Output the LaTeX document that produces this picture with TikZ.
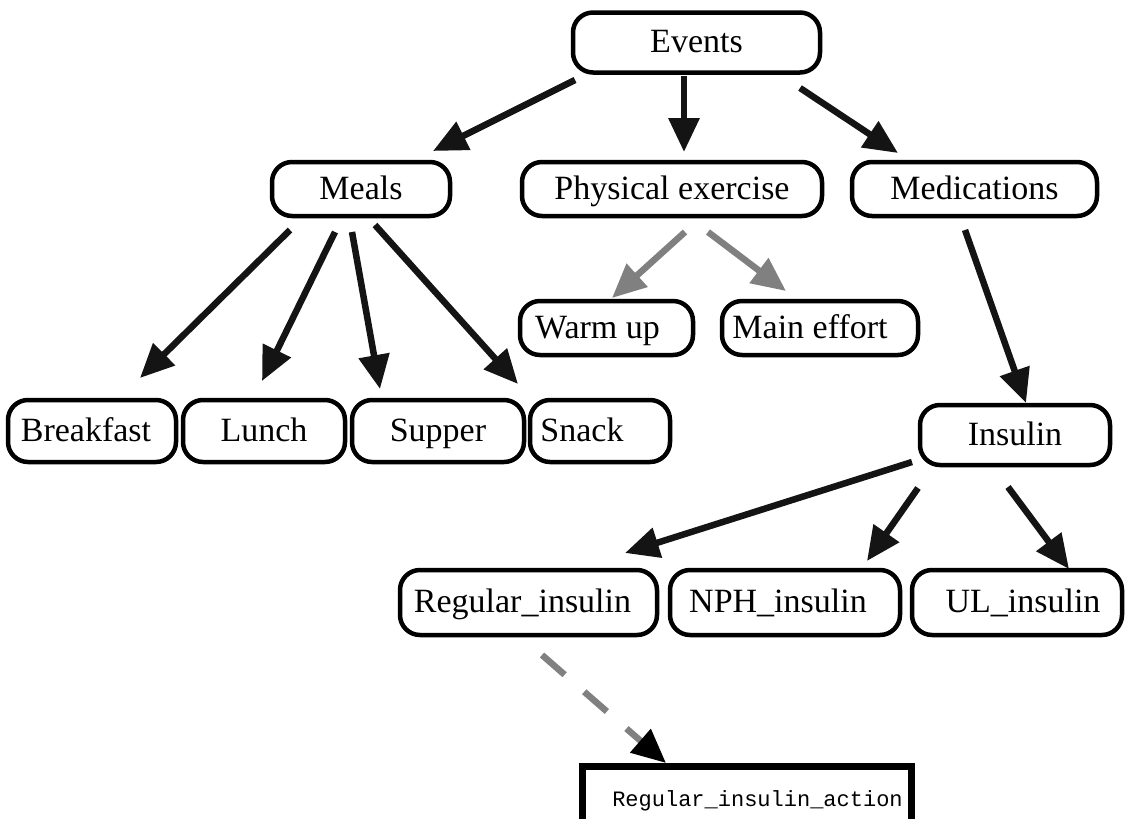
\documentclass[tikz,border=0pt]{standalone}
\usepackage{fontspec}
\setmainfont{Liberation Serif}
\setmonofont{Liberation Mono}
\usetikzlibrary{arrows.meta}
\begin{document}
\begin{tikzpicture}[x=1pt,y=-1pt,
  box/.style={draw=black, line width=4.5pt, rounded corners=20pt, inner sep=0pt,
    minimum height=54pt, text height=27pt, text depth=7pt,
    font=\fontsize{34}{40}\selectfont},
  actionbox/.style={draw=black, line width=7pt, inner sep=0pt,
    text height=25pt, text depth=5pt,
    font=\ttfamily\fontsize{22}{26}\selectfont},
  arr/.style={line width=6.5pt, draw=black!92, -{Triangle[length=34pt,width=30pt]}},
  garr/.style={line width=6.5pt, draw=black!50, -{Triangle[length=34pt,width=30pt,fill=black!50]}},
  darr/.style={line width=6.5pt, draw=black!50, dash pattern=on 30pt off 26pt,
    -{Triangle[length=34pt,width=30pt,fill=black,color=black]}}
]
\useasboundingbox (0,0) rectangle (1125,819);

% nodes
\node[box, minimum width=247, minimum height=60] (events) at (696.5,42.5) {Events};
\node[box, minimum width=178] (meals) at (361,189) {Meals};
\node[box, minimum width=300] (phys) at (672,189) {Physical exercise};
\node[box, minimum width=245] (meds) at (974.5,189) {Medications};
\node[box, minimum width=173] (warm) at (606.5,328) {Warm up\hspace*{18pt}};
\node[box, minimum width=196] (effort) at (820,328) {Main effort\hspace*{20pt}};
\node[box, minimum width=168, minimum height=62] (breakfast) at (92,431) {Breakfast\hspace*{12pt}};
\node[box, minimum width=162, minimum height=62] (lunch) at (264,431) {Lunch};
\node[box, minimum width=172, minimum height=62] (supper) at (438,431) {Supper};
\node[box, minimum width=140, minimum height=62] (snack) at (600,431) {Snack\hspace*{36pt}};
\node[box, minimum width=190, minimum height=60] (insulin) at (1015,435) {Insulin};
\node[box, minimum width=257, minimum height=65] (regular) at (528.5,602.5) {Regular\_insulin\hspace*{12pt}};
\node[box, minimum width=230, minimum height=65] (nph) at (785,602.5) {NPH\_insulin\hspace*{14pt}};
\node[box, minimum width=210, minimum height=65] (ul) at (1017,602.5) {\hspace*{12pt}UL\_insulin};
\node[actionbox, minimum width=329, minimum height=60] (action) at (746.5,796) {\hspace*{22pt}Regular\_insulin\_action};

% connector end points
\coordinate (e1s) at (575,80);  \coordinate (e1t) at (433,151);
\coordinate (e2s) at (684,76);  \coordinate (e2t) at (684,152);
\coordinate (e3s) at (800,88);  \coordinate (e3t) at (898,153);
\coordinate (m1s) at (290,230); \coordinate (m1t) at (140,378);
\coordinate (m2s) at (335,232); \coordinate (m2t) at (262,381);
\coordinate (m3s) at (352,232); \coordinate (m3t) at (380,389);
\coordinate (m4s) at (375,225); \coordinate (m4t) at (518,384);
\coordinate (p1s) at (685,232); \coordinate (p1t) at (612,298);
\coordinate (p2s) at (708,232); \coordinate (p2t) at (786,291);
\coordinate (d1s) at (965,230); \coordinate (d1t) at (1026,403);
\coordinate (i1s) at (912,462); \coordinate (i1t) at (625,553);
\coordinate (i2s) at (918,488); \coordinate (i2t) at (867,561);
\coordinate (i3s) at (1008,487); \coordinate (i3t) at (1069,569);
\coordinate (r1s) at (542,655); \coordinate (r1t) at (666,763);

% connectors
\draw[arr] (e1s) -- (e1t);
\draw[arr] (e2s) -- (e2t);
\draw[arr] (e3s) -- (e3t);
\draw[arr] (m1s) -- (m1t);
\draw[arr] (m2s) -- (m2t);
\draw[arr] (m3s) -- (m3t);
\draw[arr] (m4s) -- (m4t);
\draw[garr] (p1s) -- (p1t);
\draw[garr] (p2s) -- (p2t);
\draw[arr] (d1s) -- (d1t);
\draw[arr] (i1s) -- (i1t);
\draw[arr] (i2s) -- (i2t);
\draw[arr] (i3s) -- (i3t);
\draw[darr] (r1s) -- (r1t);
\end{tikzpicture}
\end{document}
